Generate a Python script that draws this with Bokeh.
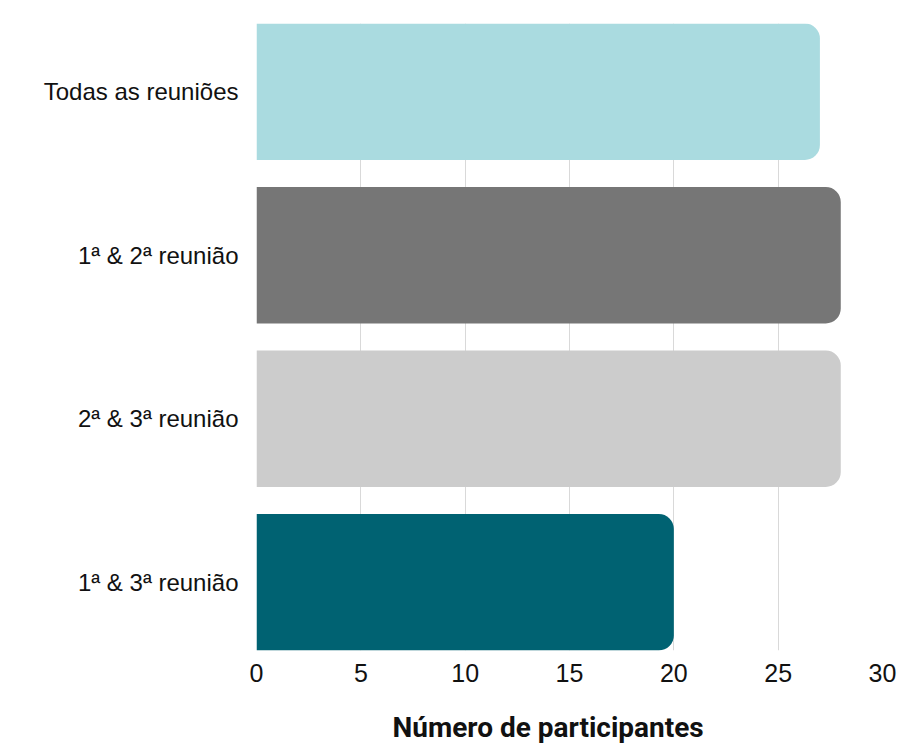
from bokeh.plotting import figure
from bokeh.models import ColumnDataSource, FixedTicker, Range1d, Title
from bokeh.embed import file_html
from bokeh.resources import INLINE

categories = ["Todas as reuniões", "1ª & 2ª reunião", "2ª & 3ª reunião", "1ª & 3ª reunião"]
values = [27, 28, 28, 20]
colors = ["#aadbe0", "#767676", "#cccccc", "#006272"]
x_ticks = [0, 5, 10, 15, 20, 25, 30]
x_title = "Número de participantes"

n = len(categories)
ypos = [n - 1 - i for i in range(n)]
h = 0.835

src = ColumnDataSource(dict(y=ypos, v=values, c=colors, cat=categories))

p = figure(width=898, height=743, output_backend="svg", toolbar_location=None,
           x_range=Range1d(0, 30), y_range=Range1d(-h / 2, n - 1 + h / 2),
           min_border_left=256, min_border_right=16, min_border_top=23, min_border_bottom=93)
p.outline_line_color = None
p.background_fill_color = "white"
p.border_fill_color = "white"

p.hbar(y="y", right="v", left=0, height=h, fill_color="c", line_color=None,
       border_radius=(0, 15, 15, 0), source=src)

p.xaxis.ticker = FixedTicker(ticks=x_ticks)
p.xaxis.axis_line_color = None
p.xaxis.major_tick_line_color = None
p.xaxis.minor_tick_line_color = None
p.xaxis.major_label_text_font = "Liberation Sans"
p.xaxis.major_label_text_font_size = "25px"
p.xaxis.major_label_text_color = "#111111"
p.xaxis.major_label_standoff = 7
# invisible spacer label to push the title down
p.xaxis.axis_label = " "
p.xaxis.axis_label_text_font_size = "10px"
p.xaxis.axis_label_standoff = 10

title = Title(text=x_title, text_font="Roboto", text_font_style="bold",
              text_font_size="28px", text_color="#111111", align="left",
              offset=136, standoff=0)
p.add_layout(title, "below")

p.yaxis.ticker = FixedTicker(ticks=ypos)
p.yaxis.major_label_overrides = {y: c for y, c in zip(ypos, categories)}
p.yaxis.axis_line_color = None
p.yaxis.major_tick_line_color = None
p.yaxis.minor_tick_line_color = None
p.yaxis.major_label_text_font = "Liberation Sans"
p.yaxis.major_label_text_font_size = "24px"
p.yaxis.major_label_text_color = "#111111"
p.yaxis.major_label_standoff = 12

p.ygrid.grid_line_color = None
p.xgrid.grid_line_color = "#d9d9d9"
p.xgrid.grid_line_width = 1

open("out.html", "w").write(file_html(p, INLINE))
